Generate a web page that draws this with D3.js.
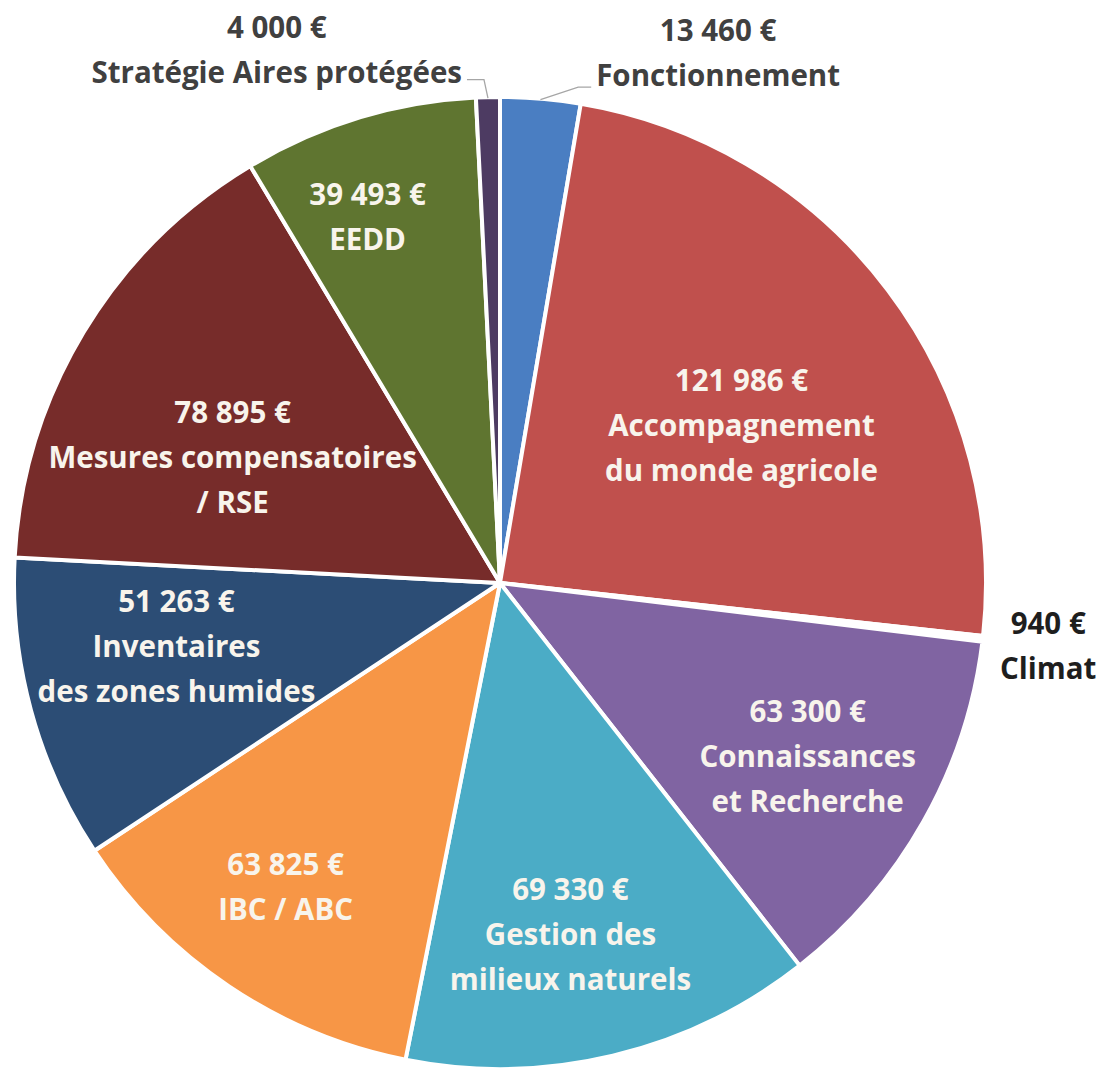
<!DOCTYPE html>
<html>
<head>
<meta charset="utf-8">
<script src="https://cdn.jsdelivr.net/npm/d3@7"></script>
<style>
  html, body { margin: 0; padding: 0; background: #ffffff; }
  svg { display: block; }
  text { font-family: "Open Sans", "Noto Sans", sans-serif; font-weight: 700; }
</style>
</head>
<body>
<svg id="chart" width="1098" height="1071"></svg>
<script>
// ---- data ----
const categories = [
  "Fonctionnement", "Accompagnement du monde agricole", "Climat",
  "Connaissances et Recherche", "Gestion des milieux naturels", "IBC / ABC",
  "Inventaires des zones humides", "Mesures compensatoires / RSE", "EEDD",
  "Stratégie Aires protégées"
];
const values = [13460, 121986, 940, 63300, 69330, 63825, 51263, 78895, 39493, 4000];
const labelLines = [
  ["Fonctionnement"],
  ["Accompagnement", "du monde agricole"],
  ["Climat"],
  ["Connaissances", "et Recherche"],
  ["Gestion des", "milieux naturels"],
  ["IBC / ABC"],
  ["Inventaires", "des zones humides"],
  ["Mesures compensatoires", "/ RSE"],
  ["EEDD"],
  ["Stratégie Aires protégées"]
];

// ---- styles / placement (kept apart from data) ----
const colors = ["#4A7EC2", "#C0504D", "#FFFFFF", "#8064A2", "#4BACC6",
                "#F79646", "#2C4D75", "#772C2A", "#5F7530", "#4D3B62"];
// [radius factor, angle offset in degrees from slice middle]
const labelPlacement = [[1.159, 18], [0.582, 5.7], [1.138, 1.0], [0.738, 1.5], [0.758, 2.4],
                        [0.783, 0.4], [0.683, 2.3], [0.599, -7.75], [0.781, -3.55], [1.17, -21.7]];
const outside = [true, false, true, false, false, false, false, false, false, true];
const leader = [1, 0, 0, 0, 0, 0, 0, 0, 0, -1]; // 1: label right of point, -1: left
const insideColor = "#F8F4EC";
const outsideColor = ["#404040", null, "#1E1E1E", null, null, null, null, null, null, "#404040"];

const cx = 500, cy = 583, R = 486, lineH = 45, fontSize = 29.5;

const svg = d3.select("#chart");
const g = svg.append("g").attr("transform", `translate(${cx},${cy})`);

const pie = d3.pie().sort(null).value(d => d);
const arcs = pie(values);
const arc = d3.arc().innerRadius(0).outerRadius(R);

g.selectAll("path.slice")
  .data(arcs)
  .join("path")
  .attr("class", "slice")
  .attr("d", arc)
  .attr("fill", (d, i) => colors[i])
  .attr("stroke", "#ffffff")
  .attr("stroke-width", 4)
  .attr("stroke-linejoin", "round");

const fmt = v => d3.format(",")(v).replace(/,/g, "\u00A0") + "\u00A0€";

arcs.forEach((d, i) => {
  const mid = (d.startAngle + d.endAngle) / 2;
  const [rf, da] = labelPlacement[i];
  const a = mid + da * Math.PI / 180;
  const x = Math.sin(a) * R * rf;
  const y = -Math.cos(a) * R * rf;
  const lines = [fmt(values[i])].concat(labelLines[i]);
  const n = lines.length;
  const t = g.append("text")
    .attr("text-anchor", "middle")
    .attr("font-size", fontSize)
    .attr("fill", outside[i] ? outsideColor[i] : insideColor);
  const spans = [];
  lines.forEach((ln, k) => {
    spans.push(t.append("tspan")
      .attr("x", x)
      .attr("y", y + (k - (n - 1) / 2) * lineH)
      .text(ln));
  });
  if (leader[i] !== 0) {
    const last = spans[spans.length - 1];
    const w = last.node().getComputedTextLength();
    const ly = y + ((n - 1) / 2) * lineH;
    const ex = leader[i] > 0 ? x - w / 2 - 5 : x + w / 2 + 5;
    const ey = leader[i] > 0 ? ly + 1 : ly - 3;
    const bx = ex + (leader[i] > 0 ? -13 : 17);
    const px = Math.sin(mid) * (R - 1), py = -Math.cos(mid) * (R - 1);
    g.append("polyline")
      .attr("points", [[ex, ey], [bx, ey], [px, py]].map(p => p.join(",")).join(" "))
      .attr("fill", "none")
      .attr("stroke", "#A6A6A6")
      .attr("stroke-width", 1.3);
  }
});
</script>
</body>
</html>
